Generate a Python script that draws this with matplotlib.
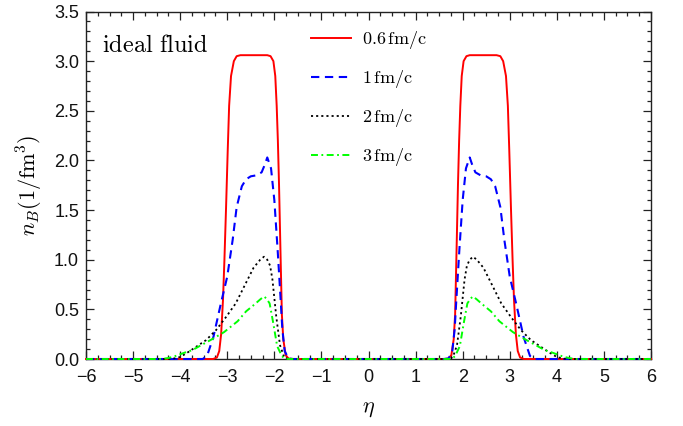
import matplotlib
matplotlib.use("Agg")
import matplotlib.pyplot as plt
from matplotlib.ticker import MultipleLocator

plt.rcParams['mathtext.fontset'] = 'cm'
plt.rcParams['font.family'] = ['Liberation Sans', 'DejaVu Sans']
plt.rcParams['lines.scale_dashes'] = False

# ---- data ----
eta_red = [-6.0, -3.30, -3.22, -3.17, -3.13, -3.09, -3.06, -3.025, -2.99, -2.96, -2.92, -2.86, -2.80, -2.72,
           -2.15, -2.08, -2.02, -1.98, -1.95, -1.925, -1.90, -1.875, -1.84, -1.81, -1.76, -1.70, -1.60,
           1.60, 1.70, 1.76, 1.81, 1.84, 1.875, 1.90, 1.925, 1.95, 1.98, 2.02, 2.08, 2.15,
           2.72, 2.80, 2.86, 2.92, 2.96, 2.99, 3.025, 3.06, 3.09, 3.13, 3.17, 3.22, 3.30, 6.0]
nB_red = [0.0, 0.0, 0.015, 0.08, 0.25, 0.6, 1.0, 1.53, 2.1, 2.55, 2.85, 3.0, 3.05, 3.06,
          3.06, 3.05, 3.0, 2.85, 2.55, 2.2, 1.75, 1.2, 0.45, 0.2, 0.04, 0.005, 0.0,
          0.0, 0.005, 0.04, 0.2, 0.45, 1.2, 1.75, 2.2, 2.55, 2.85, 3.0, 3.05, 3.06,
          3.06, 3.05, 3.0, 2.85, 2.55, 2.1, 1.53, 1.0, 0.6, 0.25, 0.08, 0.015, 0.0, 0.0]

eta_blue = [-6.0, -3.52, -3.43, -3.295, -3.135, -3.00, -2.885, -2.80, -2.69, -2.60, -2.50, -2.38, -2.27, -2.20,
            -2.15, -2.07, -2.00, -1.93, -1.86, -1.83, -1.78, -1.70, -1.60,
            1.60, 1.70, 1.78, 1.83, 1.86, 1.93, 2.00, 2.07, 2.15,
            2.20, 2.27, 2.38, 2.50, 2.60, 2.69, 2.80, 2.885, 3.00, 3.135, 3.295, 3.43, 3.52, 6.0]
nB_blue = [0.0, 0.0, 0.03, 0.22, 0.56, 0.83, 1.2, 1.53, 1.74, 1.81, 1.84, 1.85, 1.88, 1.96,
           2.03, 1.92, 1.6, 1.1, 0.55, 0.3, 0.08, 0.005, 0.0,
           0.0, 0.005, 0.08, 0.3, 0.55, 1.1, 1.6, 1.92, 2.03,
           1.96, 1.88, 1.85, 1.84, 1.81, 1.74, 1.53, 1.2, 0.83, 0.56, 0.22, 0.03, 0.0, 0.0]

eta_black = [-6.0, -4.30, -4.15, -4.00, -3.86, -3.67, -3.45, -3.24, -3.03, -2.82, -2.62, -2.44, -2.30,
             -2.22, -2.15, -2.09, -2.04, -1.96, -1.88, -1.80, -1.75, -1.65,
             1.65, 1.75, 1.80, 1.88, 1.96, 2.04, 2.09, 2.15, 2.22,
             2.30, 2.44, 2.62, 2.82, 3.03, 3.24, 3.45, 3.67, 3.86, 4.00, 4.15, 4.30, 6.0]
nB_black = [0.0, 0.0, 0.003, 0.02, 0.06, 0.12, 0.19, 0.29, 0.42, 0.56, 0.75, 0.92, 1.0,
            1.03, 1.0, 0.94, 0.80, 0.43, 0.14, 0.03, 0.005, 0.0,
            0.0, 0.005, 0.03, 0.14, 0.43, 0.80, 0.94, 1.0, 1.03,
            1.0, 0.92, 0.75, 0.56, 0.42, 0.29, 0.19, 0.12, 0.06, 0.02, 0.003, 0.0, 0.0]

eta_green = [-6.0, -4.40, -4.25, -4.10, -3.93, -3.74, -3.55, -3.32, -3.07, -2.78, -2.60, -2.42, -2.30,
             -2.22, -2.17, -2.10, -2.03, -1.94, -1.84, -1.78, -1.70,
             1.70, 1.78, 1.84, 1.94, 2.03, 2.10, 2.17, 2.22,
             2.30, 2.42, 2.60, 2.78, 3.07, 3.32, 3.55, 3.74, 3.93, 4.10, 4.25, 4.40, 6.0]
nB_green = [0.0, 0.0, 0.01, 0.03, 0.06, 0.09, 0.14, 0.20, 0.27, 0.38, 0.48, 0.55, 0.60,
            0.63, 0.61, 0.56, 0.38, 0.13, 0.03, 0.005, 0.0,
            0.0, 0.005, 0.03, 0.13, 0.38, 0.56, 0.61, 0.63,
            0.60, 0.55, 0.48, 0.38, 0.27, 0.20, 0.14, 0.09, 0.06, 0.03, 0.01, 0.0, 0.0]

labels = [r"$0.6\,\mathrm{fm/c}$", r"$1\,\mathrm{fm/c}$", r"$2\,\mathrm{fm/c}$", r"$3\,\mathrm{fm/c}$"]
x_ticks = [-6, -5, -4, -3, -2, -1, 0, 1, 2, 3, 4, 5, 6]
y_ticks = [0.0, 0.5, 1.0, 1.5, 2.0, 2.5, 3.0, 3.5]

# ---- figure ----
fig = plt.figure(figsize=(6.83, 4.26), dpi=100)
ax = fig.add_axes([86/683, 1-359/426, (651-86)/683, (359-11.5)/426])

ax.plot(eta_red, nB_red, color='#ff0000', lw=1.4, ls='-', label=labels[0], clip_on=False, zorder=3)
ax.plot(eta_blue, nB_blue, color='#0000ff', lw=1.5, ls=(0, (6.0, 4.0)), label=labels[1], clip_on=False, zorder=3)
ax.plot(eta_black, nB_black, color='black', lw=1.3, ls=(0, (1.5, 2.2)), label=labels[2], clip_on=False, zorder=3)
ax.plot(eta_green, nB_green, color='#00ff00', lw=1.4, ls=(0, (5.0, 2.5, 1.3, 2.5)), label=labels[3], clip_on=False, zorder=3)

ax.set_xlim(-6, 6)
ax.set_ylim(0, 3.5)
ax.set_xticks(x_ticks)
ax.set_yticks(y_ticks)
ax.set_yticklabels([f"{v:.1f}" for v in y_ticks])
ax.xaxis.set_minor_locator(MultipleLocator(0.25))
ax.yaxis.set_minor_locator(MultipleLocator(0.1))

for s in ax.spines.values():
    s.set_color('#222222')
    s.set_linewidth(1.0)
ax.tick_params(which='both', direction='in', top=True, right=True, color='#222222', width=0.9)
ax.tick_params(which='major', length=5.5)
ax.tick_params(which='minor', length=3.0)
ax.tick_params(axis='x', which='major', pad=7, labelsize=13, labelcolor='#111111')
ax.tick_params(axis='y', which='major', pad=5, labelsize=13, labelcolor='#111111')

ax.set_xlabel(r"$\eta$", fontsize=16)
ax.xaxis.set_label_coords(0.5, -0.112)
ax.set_ylabel(r"$n_B(1/\mathrm{fm}^3)$", fontsize=16)
ax.yaxis.set_label_coords(-0.073, 0.5)

ax.text(102.5/683, 1-52/426, r"$\mathrm{ideal\ fluid}$", transform=fig.transFigure, fontsize=17.5,
        ha='left', va='baseline')

leg = ax.legend(loc='upper left', bbox_to_anchor=((311-86)/565, 1-(29-11.5)/347.5), frameon=False,
                fontsize=13, handlelength=2.2, handletextpad=0.6, labelspacing=0.95,
                borderaxespad=0.0, borderpad=0.0)

fig.savefig("out.png", dpi=100)
